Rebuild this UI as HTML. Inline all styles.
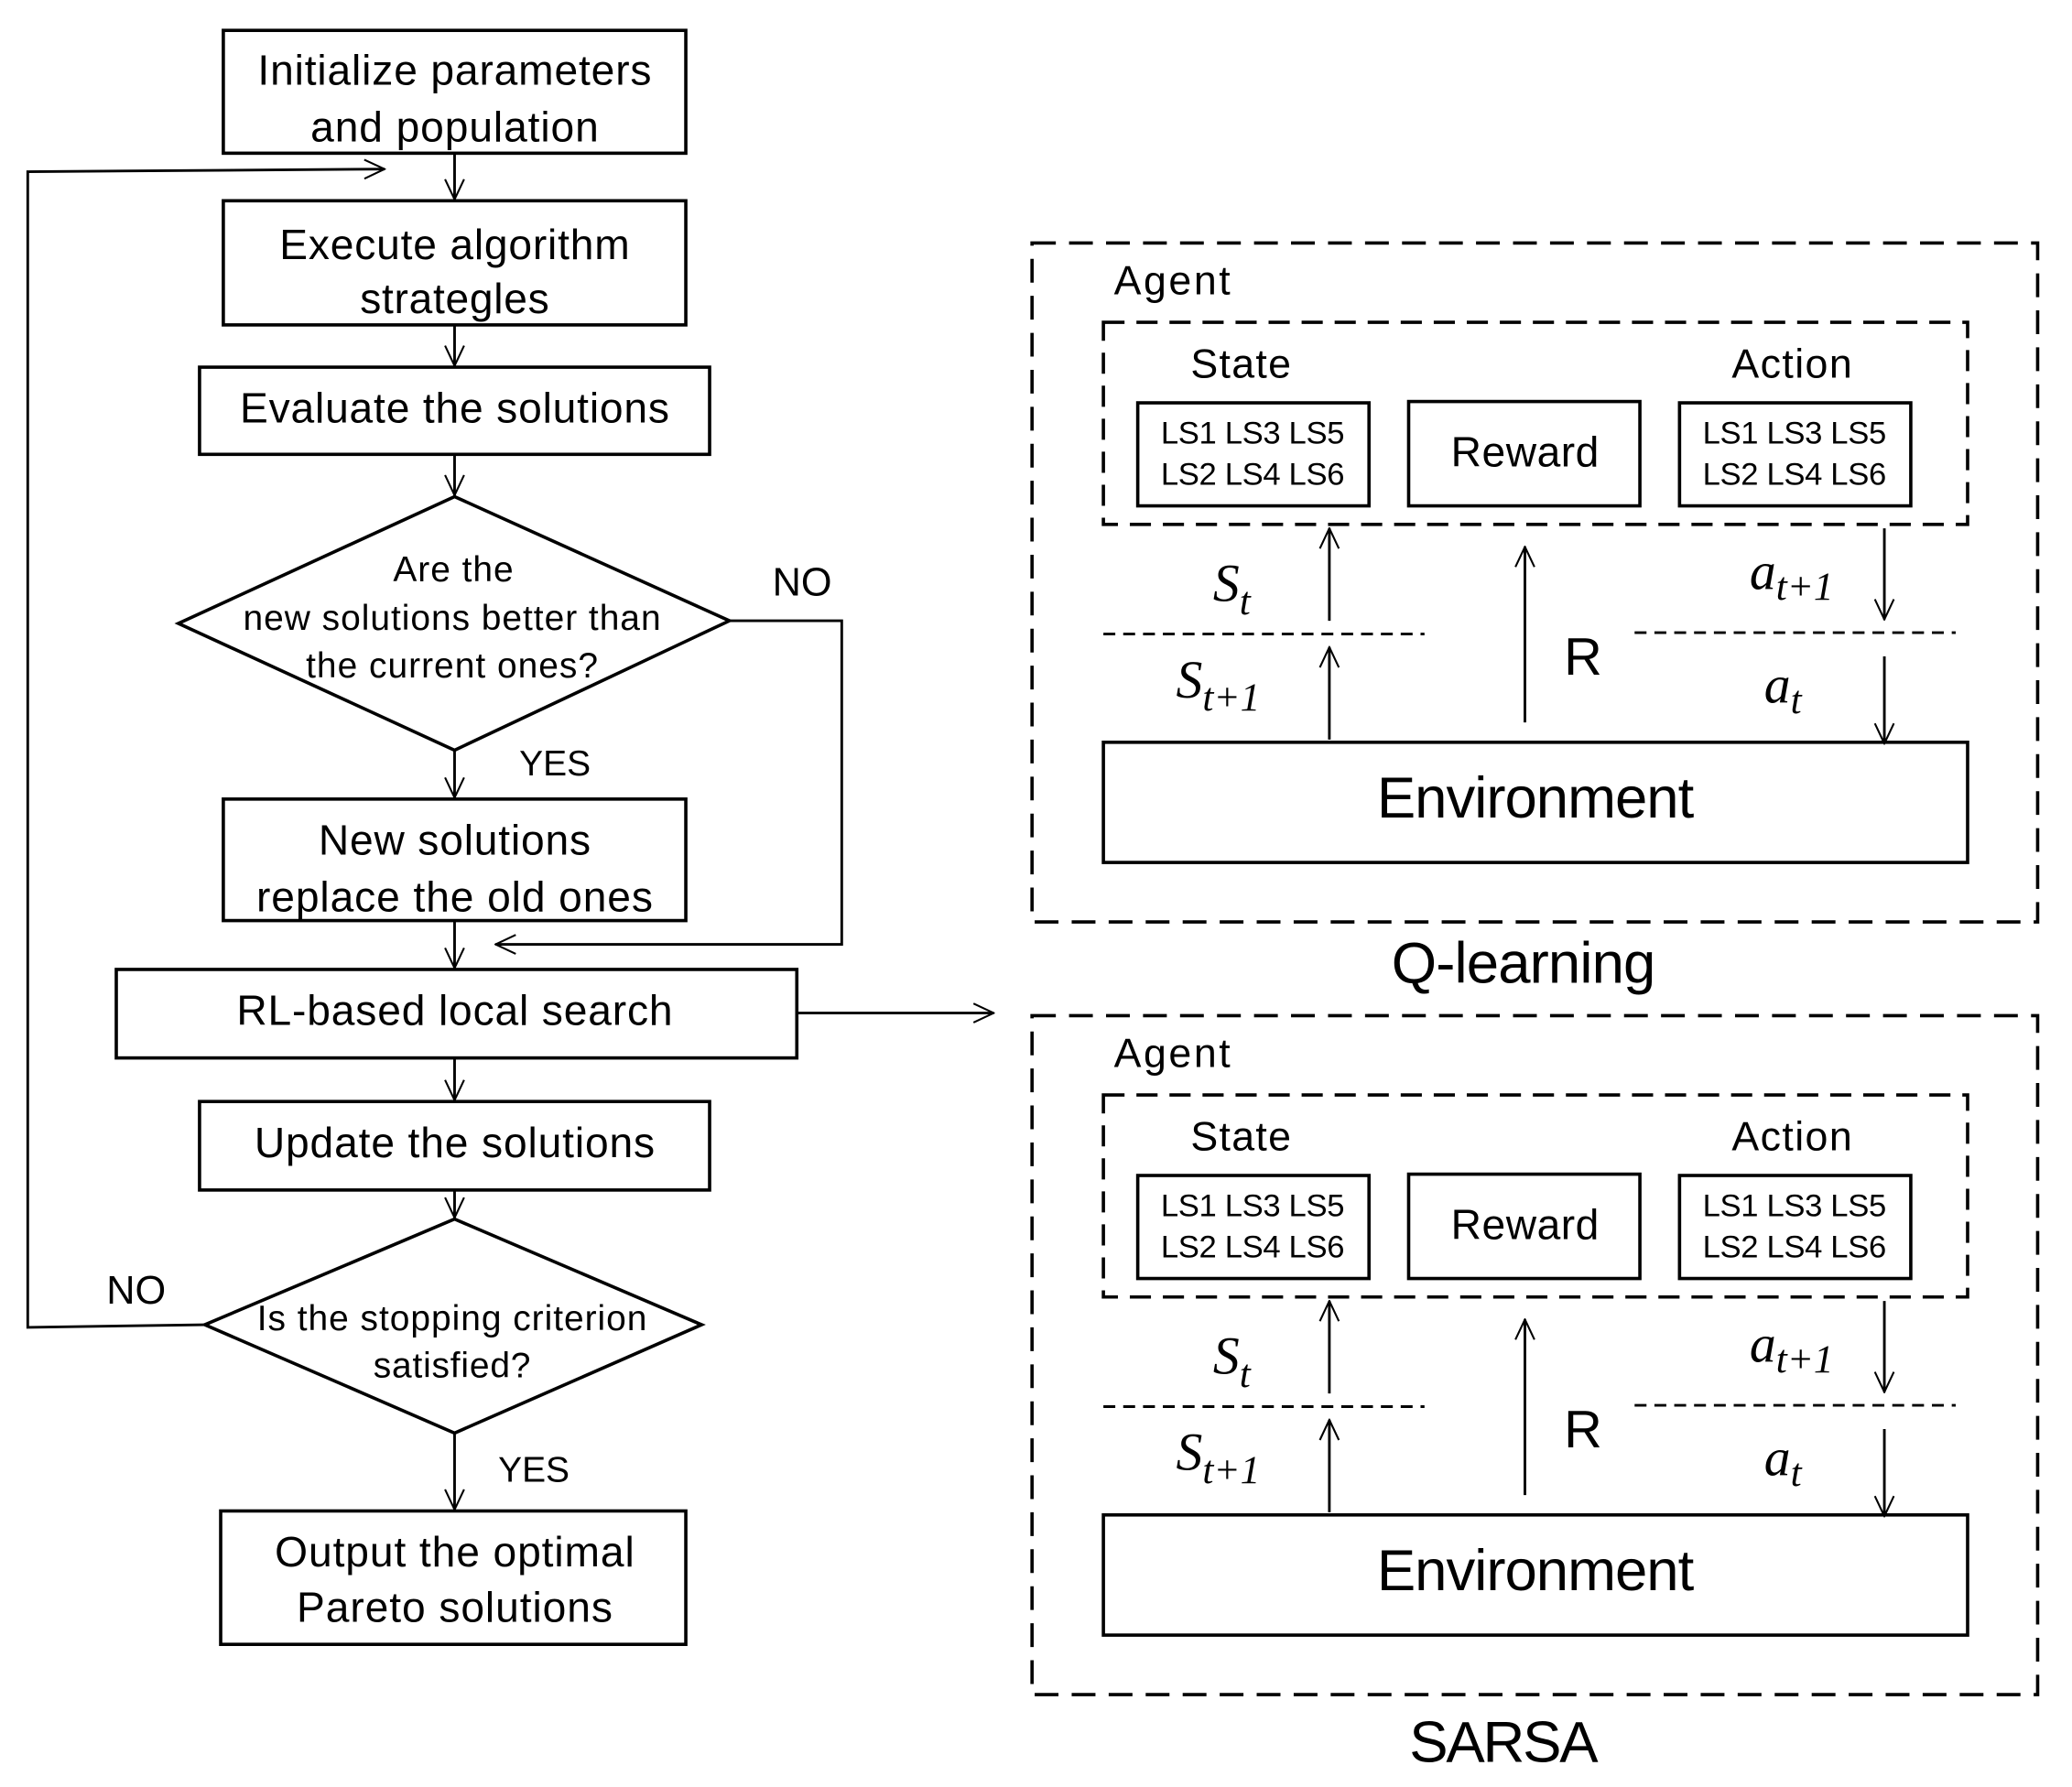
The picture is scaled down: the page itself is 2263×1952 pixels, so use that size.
<!DOCTYPE html>
<html><head><meta charset="utf-8"><style>html,body{margin:0;padding:0;background:#fff}svg{display:block}</style></head><body>
<svg width="2263" height="1952" viewBox="0 0 1568 1353" preserveAspectRatio="none" xmlns="http://www.w3.org/2000/svg">
<defs>
<marker id="a" viewBox="0 0 20 20" refX="19" refY="10" markerWidth="18" markerHeight="18" markerUnits="userSpaceOnUse" orient="auto"><path d="M2,2 L19,10 L2,18" fill="none" stroke="#000" stroke-width="1.6"/></marker>
</defs>
<g font-family="Liberation Sans, Arial, sans-serif" fill="#000" text-anchor="middle" lengthAdjust="spacingAndGlyphs">
<g fill="none" stroke="#000" stroke-width="2.5">
<rect x="169" y="23" width="350" height="93"/>
<rect x="169" y="152" width="350" height="94"/>
<rect x="151" y="278" width="386" height="66"/>
<polygon points="344,376 552,470 344,568 135,472"/>
<rect x="169" y="605" width="350" height="92"/>
<rect x="88" y="734" width="515" height="67"/>
<rect x="151" y="834" width="386" height="67"/>
<polygon points="344,923 531,1003 344,1085 155,1003"/>
<rect x="167" y="1144" width="352" height="101"/>
</g>
<g fill="none" stroke="#000" stroke-width="2">
<line x1="344" y1="116" x2="344" y2="151" marker-end="url(#a)"/>
<polyline points="155,1003 21,1005 21,130 291,128" marker-end="url(#a)"/>
<line x1="344" y1="246" x2="344" y2="277" marker-end="url(#a)"/>
<line x1="344" y1="344" x2="344" y2="375" marker-end="url(#a)"/>
<polyline points="552,470 637,470 637,715 375,715" marker-end="url(#a)"/>
<line x1="344" y1="568" x2="344" y2="604" marker-end="url(#a)"/>
<line x1="344" y1="697" x2="344" y2="733" marker-end="url(#a)"/>
<line x1="603" y1="767" x2="752" y2="767" marker-end="url(#a)"/>
<line x1="344" y1="801" x2="344" y2="833" marker-end="url(#a)"/>
<line x1="344" y1="901" x2="344" y2="922" marker-end="url(#a)"/>
<line x1="344" y1="1085" x2="344" y2="1143" marker-end="url(#a)"/>
</g>
<g font-size="32">
<text x="344" y="64" textLength="298">Initialize parameters</text>
<text x="344" y="107" textLength="218">and population</text>
<text x="344" y="196" textLength="265">Execute algorithm</text>
<text x="344" y="237" textLength="143">strategles</text>
<text x="344" y="320" textLength="325">Evaluate the solutions</text>
<text x="344" y="647" textLength="206">New solutions</text>
<text x="344" y="690" textLength="300">replace the old ones</text>
<text x="344" y="776" textLength="330">RL-based local search</text>
<text x="344" y="876" textLength="303">Update the solutions</text>
<text x="344" y="1186" textLength="272">Output the optimal</text>
<text x="344" y="1228" textLength="239">Pareto solutions</text>
</g>
<g font-size="27">
<text x="343" y="440" textLength="91">Are the</text>
<text x="342" y="477" textLength="316">new solutions better than</text>
<text x="342" y="513" textLength="221">the current ones?</text>
<text x="342" y="1007" textLength="295">Is the stopping criterion</text>
<text x="342" y="1043" textLength="119">satisfied?</text>
<text x="420" y="587">YES</text>
<text x="404" y="1122">YES</text>
<text x="607" y="451" font-size="30">NO</text>
<text x="103" y="987" font-size="30">NO</text>
</g>
<text x="1153" y="744" font-size="44" textLength="200">Q-learning</text>
<text x="1138" y="1334" font-size="44" textLength="143">SARSA</text>
<g id="p">
<g fill="none" stroke="#000">
<rect x="781" y="184" width="761" height="514" stroke-width="2.5" stroke-dasharray="18,10"/>
<rect x="835" y="244" width="654" height="153" stroke-width="2.5" stroke-dasharray="16,9"/>
<rect x="861" y="305" width="175" height="78" stroke-width="2.5"/>
<rect x="1066" y="304" width="175" height="79" stroke-width="2.5"/>
<rect x="1271" y="305" width="175" height="78" stroke-width="2.5"/>
<rect x="835" y="562" width="654" height="91" stroke-width="2.5"/>
<line x1="835" y1="480" x2="1078" y2="480" stroke-width="2" stroke-dasharray="9,6"/>
<line x1="1237" y1="479" x2="1480" y2="479" stroke-width="2" stroke-dasharray="9,6"/>
<line x1="1006" y1="470" x2="1006" y2="400" stroke-width="2" marker-end="url(#a)"/>
<line x1="1006" y1="560" x2="1006" y2="490" stroke-width="2" marker-end="url(#a)"/>
<line x1="1154" y1="547" x2="1154" y2="414" stroke-width="2" marker-end="url(#a)"/>
<line x1="1426" y1="400" x2="1426" y2="469" stroke-width="2" marker-end="url(#a)"/>
<line x1="1426" y1="497" x2="1426" y2="563" stroke-width="2" marker-end="url(#a)"/>
</g>
<text x="887" y="223" font-size="31" textLength="88">Agent</text>
<text x="939" y="286" font-size="31" textLength="76">State</text>
<text x="1356" y="286" font-size="31" textLength="91">Action</text>
<text x="948" y="336" font-size="24" textLength="139">LS1 LS3 LS5</text>
<text x="948" y="367" font-size="24" textLength="139">LS2 LS4 LS6</text>
<text x="1358" y="336" font-size="24" textLength="139">LS1 LS3 LS5</text>
<text x="1358" y="367" font-size="24" textLength="139">LS2 LS4 LS6</text>
<text x="1154" y="353" font-size="32" textLength="112">Reward</text>
<text x="1198" y="511" font-size="40">R</text>
<text x="1162" y="619" font-size="44" textLength="240">Environment</text>
<g font-family="Liberation Serif, serif" font-style="italic" text-anchor="start">
<text x="918" y="455" font-size="40">S<tspan font-size="30" dy="10">t</tspan></text>
<text x="890" y="528" font-size="40">S<tspan font-size="30" dy="10">t+1</tspan></text>
<text x="1324" y="446" font-size="40">a<tspan font-size="30" dy="8">t+1</tspan></text>
<text x="1335" y="532" font-size="40">a<tspan font-size="30" dy="8">t</tspan></text>
</g>
</g>
<use href="#p" transform="translate(0,585)"/>
</g>
</svg>
</body></html>
